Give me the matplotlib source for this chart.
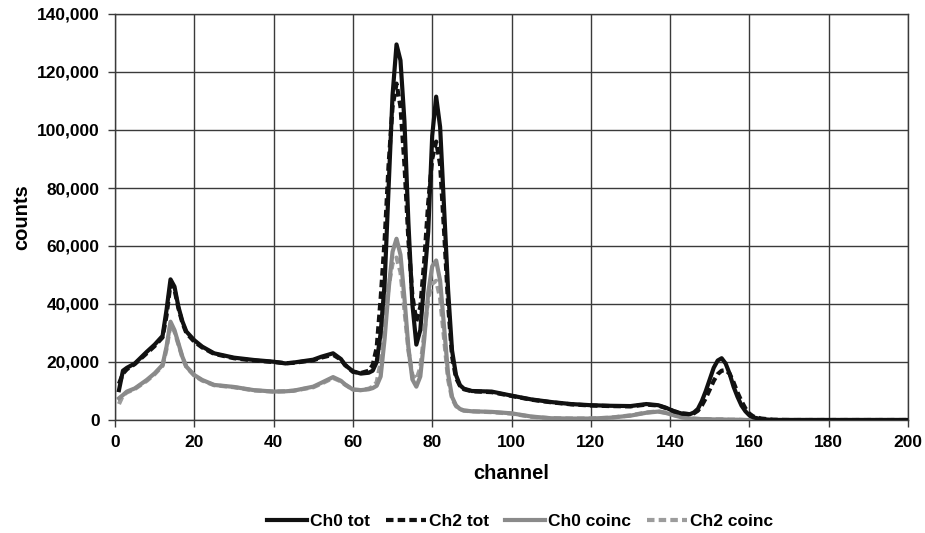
import matplotlib
matplotlib.use("Agg")
import matplotlib.pyplot as plt
from matplotlib.ticker import FuncFormatter, MultipleLocator
from matplotlib.lines import Line2D

# channel positions (x) at which values were read
channel = [1, 2, 3, 5, 8, 10, 12, 13, 14, 15, 16, 17, 18, 20, 22, 25, 30, 35, 40, 43,
           45, 50, 52, 55, 57, 58, 60, 62, 64, 65, 66, 67, 68, 69, 70, 71, 72, 73, 74, 75,
           76, 77, 78, 79, 80, 81, 82, 83, 84, 85, 86, 87, 88, 90, 95, 100, 105, 110, 115, 120,
           125, 130, 134, 137, 139, 141, 143, 145, 146, 147, 148, 149, 150, 151, 152, 153, 154, 155, 156, 157,
           158, 159, 160, 161, 163, 166, 170, 180, 190, 200]

# counts in thousands
ch0_tot = [10.3, 17, 18, 19.5, 23.5, 26, 29, 38, 48.5, 46, 39, 34, 30.5, 27.5, 25.3, 23, 21.5, 20.7, 20.1, 19.5,
           19.8, 20.8, 21.8, 23, 21, 19, 16.8, 16, 16.3, 17, 20, 30, 47, 80, 112, 129.5, 124, 103, 68, 40,
           26, 31, 48, 65, 98, 111.5, 101, 73, 45, 24, 15.5, 12, 10.8, 10, 9.8, 8.4, 7.1, 6.2, 5.5, 5.1,
           4.9, 4.8, 5.5, 5.1, 4.2, 3.0, 2.2, 2.0, 2.6, 3.8, 6.5, 10, 14, 18, 20.5, 21.3, 19.5, 16, 11.5, 8,
           5, 3, 1.6, 0.9, 0.3, 0, 0, 0, 0, 0]

ch2_tot = [12.5, 16, 17.5, 19.3, 23, 25.5, 28.5, 36, 47, 45, 38.5, 33.5, 30, 27, 25, 22.8, 21.3, 20.5, 20, 19.6,
           19.7, 20.6, 21.5, 22.5, 20.8, 19, 16.6, 16.2, 17, 19, 25, 42, 62, 88, 108, 116, 108, 88, 62, 43,
           34, 39, 55, 75, 90, 96, 88, 65, 40, 22, 14.5, 11.8, 10.6, 9.9, 9.6, 8.3, 7, 6.1, 5.4, 5.0,
           4.8, 4.7, 5.3, 5.0, 4.1, 3.0, 2.3, 2.0, 2.3, 3.2, 5, 7.5, 10.5, 13.5, 15.8, 17, 17.2, 16, 13, 9.5,
           6.5, 4, 2.2, 1.2, 0.5, 0.1, 0, 0, 0, 0]

ch0_coinc = [7.5, 8.6, 9.8, 10.9, 13.8, 16.1, 19, 25.3, 33.9, 31, 26.4, 21.8, 18.4, 15.5, 13.8, 12.1, 11.4, 10.3, 9.8, 9.9,
             10.1, 11.5, 12.8, 14.8, 13.5, 12.3, 10.5, 10.3, 10.6, 11, 11.8, 15, 28, 45, 58, 62.5, 57, 42, 25, 14,
             11.5, 15, 28, 44, 53, 55, 48, 32, 16, 8, 5, 3.8, 3.3, 3, 2.8, 2.3, 1.2, 0.6, 0.5, 0.5,
             0.8, 1.5, 2.5, 2.9, 2.4, 1.6, 0.9, 0.5, 0.4, 0.35, 0.3, 0.3, 0.25, 0.2, 0.2, 0.2, 0.15, 0.1, 0.1, 0.1,
             0.05, 0, 0, 0, 0, 0, 0, 0, 0, 0]

ch2_coinc = [5.5, 8.5, 9.5, 10.7, 13.5, 15.8, 18.7, 24.5, 33, 30.5, 26, 21.5, 18.2, 15.3, 13.6, 12, 11.3, 10.2, 9.8, 9.9,
             10.1, 11.3, 12.5, 14.5, 13.3, 12.2, 10.5, 10.3, 10.8, 11.5, 13, 20, 32, 46, 54, 56, 51, 38, 24, 15.5,
             14, 18, 30, 42, 47, 48, 42, 28, 14, 7.5, 4.8, 3.7, 3.2, 3, 2.7, 2.2, 1.1, 0.6, 0.5, 0.5,
             0.8, 1.6, 2.6, 3.0, 2.5, 1.7, 1.0, 0.6, 0.5, 0.4, 0.3, 0.3, 0.25, 0.2, 0.2, 0.2, 0.15, 0.1, 0.1, 0.1,
             0.05, 0, 0, 0, 0, 0, 0, 0, 0, 0]

labels = ["Ch0 tot", "Ch2 tot", "Ch0 coinc", "Ch2 coinc"]

plt.rcParams['font.family'] = ['Liberation Sans', 'DejaVu Sans']
plt.rcParams['font.weight'] = 'bold'

fig = plt.figure(figsize=(9.25, 5.33), dpi=100)
ax = fig.add_axes([115/925, 1-420/533, (908-115)/925, (420-14)/533])

k = lambda s: [v * 1000 for v in s]
LW = 3.0
dash = (0, (1.8, 1.0))
gray_d = '#9c9c9c'
gray_s = '#8a8a8a'
black = '#111111'
ax.plot(channel, k(ch2_coinc), color=gray_d, lw=LW, ls=dash, zorder=3)
ax.plot(channel, k(ch0_coinc), color=gray_s, lw=LW, zorder=4)
ax.plot(channel, k(ch2_tot), color=black, lw=LW, ls=dash, zorder=5)
ax.plot(channel, k(ch0_tot), color=black, lw=LW, zorder=6)

ax.set_xlim(0, 200)
ax.set_ylim(0, 140000)
ax.xaxis.set_major_locator(MultipleLocator(20))
ax.yaxis.set_major_locator(MultipleLocator(20000))
ax.yaxis.set_major_formatter(FuncFormatter(lambda v, p: f"{int(v):,}"))
ax.grid(True, color='#3a3a3a', lw=1.0)
ax.set_axisbelow(True)
for s in ax.spines.values():
    s.set_color('#3a3a3a')
    s.set_linewidth(1.0)
ax.tick_params(axis='both', which='major', direction='out', length=5, width=1,
               color='#3a3a3a', labelsize=12.5, pad=6)
for t in ax.get_xticklabels() + ax.get_yticklabels():
    t.set_fontweight('bold')

ax.set_xlabel("channel", fontsize=14.5, fontweight='bold', labelpad=10)
ax.set_ylabel("counts", fontsize=14.5, fontweight='bold', labelpad=4)

handles = [Line2D([], [], color=black, lw=LW),
           Line2D([], [], color=black, lw=LW, ls=dash),
           Line2D([], [], color=gray_s, lw=LW),
           Line2D([], [], color=gray_d, lw=LW, ls=dash)]
fig.legend(handles, labels, loc='center', bbox_to_anchor=(520/925, 1-521/533), ncol=4,
           frameon=False, handlelength=2.3, handletextpad=0.2,
           columnspacing=0.9, prop={'weight': 'bold', 'size': 12.5})

fig.savefig("out.png", dpi=100)
